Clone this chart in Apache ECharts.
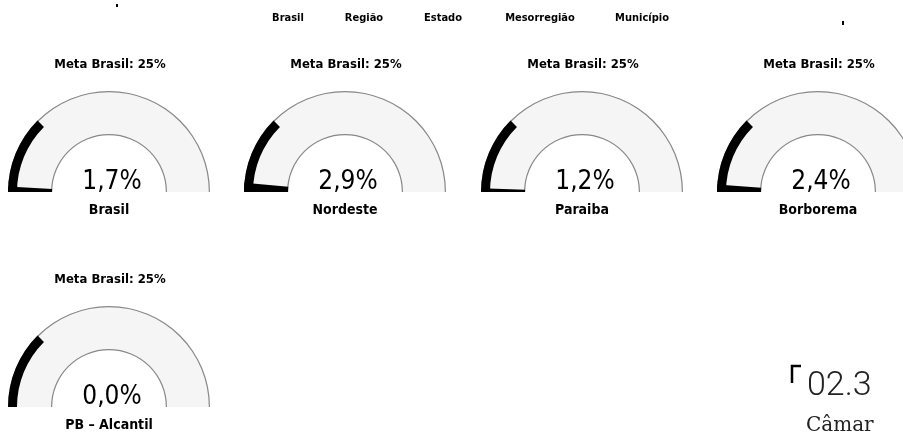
<!DOCTYPE html>
<html>
<head>
<meta charset="utf-8">
<script src="https://cdn.jsdelivr.net/npm/echarts@6/dist/echarts.min.js"></script>
<style>
  html, body { margin: 0; padding: 0; background: #fff; }
  #chart { width: 903px; height: 436px; }
</style>
</head>
<body>
<div id="chart"></div>
<script>
// data
const levels = ['Brasil', 'Região', 'Estado', 'Mesorregião', 'Município']
const names = ['Brasil', 'Nordeste', 'Paraiba', 'Borborema', 'PB – Alcantil']
const values = [1.7, 2.9, 1.2, 2.4, 0.0]
const meta = 25
const metaLabel = 'Meta Brasil: 25%'

const chart = echarts.init(document.getElementById('chart'))

const condensed = '"DejaVu Sans Condensed", "Liberation Sans Narrow", sans-serif'
const R = 101
const BAND = 44

// gauge centres, 4 per row
const centers = [[109, 192], [345, 192], [582, 192], [818, 192], [109, 407]]

const fmt = v => v.toFixed(1).replace('.', ',') + '%'

const base = c => ({
  type: 'gauge',
  center: c,
  radius: R,
  startAngle: 180,
  endAngle: 0,
  min: 0,
  max: 100,
  pointer: { show: false },
  axisTick: { show: false },
  splitLine: { show: false },
  axisLabel: { show: false },
  silent: true,
  animation: false
})

const series = []
values.forEach((v, i) => {
  const c = centers[i]
  // grey band + value progress
  series.push({
    ...base(c),
    axisLine: { lineStyle: { width: BAND, color: [[1, '#f5f5f5']] } },
    progress: { show: true, width: BAND, itemStyle: { color: '#000' } },
    title: {
      offsetCenter: [0, 18],
      fontFamily: condensed,
      fontWeight: 'bold',
      fontSize: 14,
      color: '#000'
    },
    detail: {
      offsetCenter: [3, -10],
      fontFamily: condensed,
      fontWeight: 'normal',
      fontSize: 26,
      color: '#000',
      formatter: fmt
    },
    data: [{ value: v, name: names[i] }]
  })
  // outlines of the band
  series.push({
    ...base(c),
    axisLine: { lineStyle: { width: 1.2, color: [[1, '#888']] } },
    title: { show: false },
    detail: { show: false },
    data: [{ value: 0 }]
  })
  series.push({
    ...base(c),
    radius: R - BAND + 1,
    axisLine: { lineStyle: { width: 1.2, color: [[1, '#888']] } },
    title: { show: false },
    detail: { show: false },
    data: [{ value: 0 }]
  })
  // black arc for the goal (0 .. meta)
  series.push({
    ...base(c),
    axisLine: { lineStyle: { width: 9, color: [[meta / 100, '#000'], [1, 'rgba(0,0,0,0)']] } },
    title: { show: false },
    detail: { show: false },
    data: [{ value: 0 }]
  })
})

const graphic = []
// "Meta Brasil" captions above every gauge
centers.forEach(c => {
  graphic.push({
    type: 'text',
    x: c[0] + 1,
    y: c[1] - 127,
    style: {
      text: metaLabel,
      align: 'center',
      verticalAlign: 'middle',
      font: 'bold 13px ' + condensed,
      fill: '#000'
    }
  })
})
// level buttons at the top
const levelX = [288, 364, 443, 540, 642]
levels.forEach((t, i) => {
  graphic.push({
    type: 'text',
    x: levelX[i],
    y: 18,
    style: {
      text: t,
      align: 'center',
      verticalAlign: 'middle',
      font: 'bold 11px ' + condensed,
      fill: '#000'
    }
  })
})
// stray marks of the scanned page
graphic.push(
  { type: 'rect', shape: { x: 116, y: 4, width: 2, height: 3 }, style: { fill: '#000' } },
  { type: 'rect', shape: { x: 842, y: 21, width: 2, height: 4 }, style: { fill: '#000' } },
  {
    type: 'polyline',
    shape: { points: [[792, 383], [792, 366], [801, 366]] },
    style: { stroke: '#000', lineWidth: 2.5, fill: null }
  },
  {
    type: 'text',
    x: 807,
    y: 386,
    style: {
      text: '02.3',
      align: 'left',
      verticalAlign: 'middle',
      font: '300 34px Roboto, sans-serif',
      fill: '#222'
    }
  },
  {
    type: 'text',
    x: 806,
    y: 426,
    style: {
      text: 'Câmar',
      align: 'left',
      verticalAlign: 'middle',
      font: '20px "DejaVu Serif", "Liberation Serif", serif',
      fill: '#222'
    }
  }
)

chart.setOption({
  backgroundColor: '#fff',
  series,
  graphic
})

window.addEventListener('resize', () => chart.resize())
</script>
</body>
</html>
